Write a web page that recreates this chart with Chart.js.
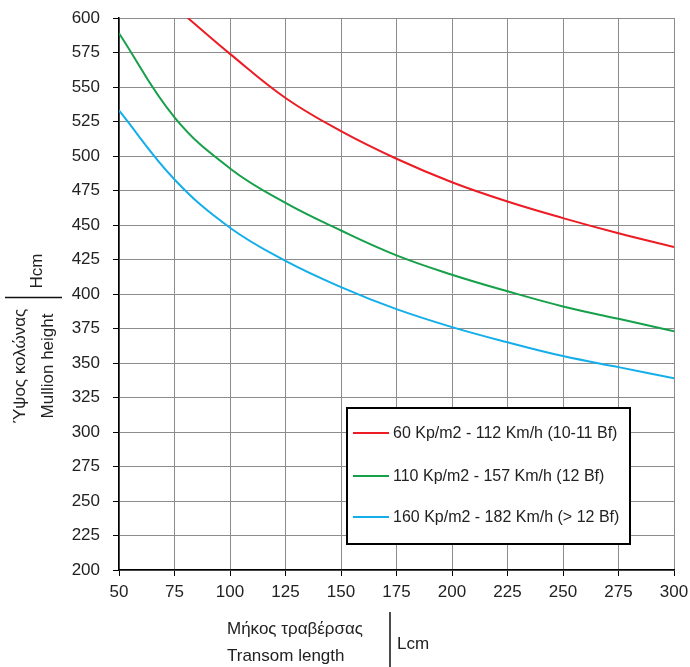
<!DOCTYPE html>
<html>
<head>
<meta charset="utf-8">
<script src="https://cdn.jsdelivr.net/npm/chart.js@4/dist/chart.umd.min.js"></script>
<style>
  html, body { margin: 0; padding: 0; background: #fff; }
  #wrap { width: 690px; height: 667px; position: relative; }
</style>
</head>
<body>
<div id="wrap"><canvas id="windChart"></canvas></div>
<script>
const lengths = [50, 75, 100, 125, 150, 175, 200, 225, 250, 275, 300];
// la courbe rouge entre dans le graphique à L≈81
const lengths60 = [81, 100, 125, 150, 175, 200, 225, 250, 275, 300];
const height60 = [600, 574, 542, 518, 498, 481, 467, 455, 444, 434];
const height110 = [589, 528, 491, 466, 446, 428, 414, 402, 391, 382, 373];
const height160 = [533, 483, 448, 424, 405, 389, 376, 365, 355, 347, 339];
const seriesLabels = [
  '60 Kp/m2 - 112 Km/h (10-11 Bf)',
  '110 Kp/m2 - 157 Km/h (12 Bf)',
  '160 Kp/m2 - 182 Km/h (> 12 Bf)'
];
const seriesColors = ['#ed1c24', '#16a04a', '#14aeea'];

const FONT = '"Liberation Sans", Arial, sans-serif';
Chart.defaults.font.family = FONT;
Chart.defaults.color = '#222';

function toPoints(xs, values) {
  return xs.map((x, i) => ({ x: x, y: values[i] }));
}

const seriesData = [
  toPoints(lengths60, height60),
  toPoints(lengths, height110),
  toPoints(lengths, height160)
];

const datasets = seriesData.map((pts, i) => ({
  label: seriesLabels[i],
  data: pts,
  borderColor: seriesColors[i],
  backgroundColor: seriesColors[i],
  borderWidth: 2,
  pointRadius: 0,
  tension: 0.4,
  fill: false
}));

// titres des axes + légende dessinés à la main
const decorations = {
  id: 'decorations',
  afterDraw(chart) {
    const ctx = chart.ctx;
    ctx.save();
    ctx.fillStyle = '#222';
    ctx.font = '17px ' + FONT;
    ctx.textAlign = 'left';
    ctx.textBaseline = 'alphabetic';
    ctx.fillText('Μήκος τραβέρσας', 227, 634);
    ctx.fillText('Transom length', 227, 661);
    ctx.fillText('Lcm', 397, 649);
    ctx.strokeStyle = '#111';
    ctx.lineWidth = 1.5;
    ctx.beginPath();
    ctx.moveTo(390, 612);
    ctx.lineTo(390, 667);
    ctx.stroke();

    ctx.beginPath();
    ctx.moveTo(5, 297.5);
    ctx.lineTo(62, 297.5);
    ctx.stroke();

    const vtext = (txt, x, y) => {
      ctx.save();
      ctx.translate(x, y);
      ctx.rotate(-Math.PI / 2);
      ctx.textAlign = 'center';
      ctx.fillText(txt, 0, 0);
      ctx.restore();
    };
    vtext('Ύψος κολώνας', 25, 366);
    vtext('Mullion height', 53, 366);
    vtext('Hcm', 42, 271);

    // légende
    const bx = 347, by = 408, bw = 283, bh = 136;
    ctx.fillStyle = '#fff';
    ctx.fillRect(bx, by, bw, bh);
    ctx.strokeStyle = '#000';
    ctx.lineWidth = 2;
    ctx.strokeRect(bx, by, bw, bh);
    const rows = [433, 476, 517];
    ctx.font = '16px ' + FONT;
    ctx.textBaseline = 'middle';
    chart.data.datasets.forEach((ds, i) => {
      ctx.strokeStyle = ds.borderColor;
      ctx.lineWidth = 2;
      ctx.beginPath();
      ctx.moveTo(353, rows[i]);
      ctx.lineTo(389, rows[i]);
      ctx.stroke();
      ctx.fillStyle = '#222';
      ctx.fillText(ds.label, 393, rows[i] + 1);
    });
    ctx.restore();
  }
};

const bgPlugin = {
  id: 'bg',
  beforeDraw(chart) {
    const ctx = chart.ctx;
    ctx.save();
    ctx.fillStyle = '#fff';
    ctx.fillRect(0, 0, chart.width, chart.height);
    ctx.restore();
  }
};

new Chart(document.getElementById('windChart'), {
  type: 'line',
  data: { datasets: datasets },
  options: {
    responsive: true,
    maintainAspectRatio: false,
    animation: false,
    layout: { padding: { left: 0, right: 16, top: 18, bottom: 0 } },
    plugins: {
      legend: { display: false },
      tooltip: { enabled: false }
    },
    scales: {
      x: {
        type: 'linear',
        min: 50,
        max: 300,
        ticks: { stepSize: 25, padding: 6, font: { size: 17 }, color: '#222', maxRotation: 0 },
        grid: { color: '#8c8c8c', lineWidth: 1, tickLength: 6, tickColor: '#000' },
        border: { color: '#000', width: 1.5 },
        afterFit(scale) {
          scale.height = 97;
          scale.paddingLeft = 0;
          scale.paddingRight = 0;
        }
      },
      y: {
        min: 200,
        max: 600,
        ticks: { stepSize: 25, padding: 13, font: { size: 17 }, color: '#222' },
        grid: { color: '#8c8c8c', lineWidth: 1, tickLength: 6, tickColor: '#000' },
        border: { color: '#000', width: 1.5 },
        afterFit(scale) {
          scale.width = 119;
          scale.paddingTop = 0;
          scale.paddingBottom = 0;
        }
      }
    }
  },
  plugins: [bgPlugin, decorations]
});
</script>
</body>
</html>
